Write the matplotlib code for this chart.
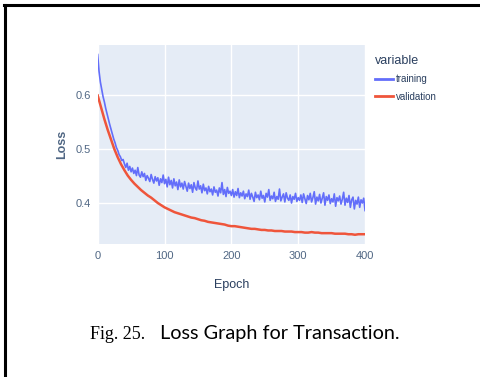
import numpy as np
import matplotlib
matplotlib.use("Agg")
import matplotlib.pyplot as plt
from matplotlib.lines import Line2D

# training loss, logged every 2 epochs
train_epochs = np.arange(0, 401, 2)
train_loss = [
    0.676, 0.645, 0.625, 0.612, 0.598, 0.588, 0.576, 0.566, 0.556, 0.546,
    0.537, 0.528, 0.519, 0.512, 0.503, 0.498, 0.490, 0.486, 0.479, 0.481,
    0.473,
    0.466, 0.474, 0.461, 0.468, 0.458, 0.465, 0.455, 0.461, 0.451, 0.466,
    0.452, 0.448, 0.458, 0.449, 0.455, 0.442, 0.451, 0.446, 0.440, 0.453,
    0.444, 0.437, 0.449, 0.441, 0.447, 0.433, 0.445, 0.438, 0.452, 0.436,
    0.444, 0.430, 0.448, 0.434, 0.442, 0.428, 0.445, 0.432, 0.439, 0.425,
    0.443, 0.430, 0.437, 0.426, 0.440, 0.431, 0.422, 0.437, 0.427, 0.434,
    0.420, 0.438, 0.428, 0.424, 0.441, 0.426, 0.432, 0.419, 0.435, 0.423,
    0.428, 0.417, 0.431, 0.421, 0.426, 0.415, 0.430, 0.420, 0.424, 0.413,
    0.428, 0.419, 0.438, 0.416, 0.425, 0.412, 0.429, 0.418, 0.422, 0.414,
    0.425, 0.411, 0.421, 0.414, 0.427, 0.410, 0.419, 0.413, 0.422, 0.408,
    0.417, 0.412, 0.424, 0.407, 0.418, 0.411, 0.403, 0.420, 0.410, 0.415,
    0.406, 0.422, 0.409, 0.414, 0.402, 0.418, 0.411, 0.425, 0.405, 0.413,
    0.408, 0.420, 0.403, 0.412, 0.407, 0.426, 0.404, 0.411, 0.417, 0.402,
    0.419, 0.409, 0.405, 0.415, 0.400, 0.412, 0.407, 0.418, 0.403, 0.410,
    0.405, 0.415, 0.401, 0.417, 0.408, 0.399, 0.414, 0.406, 0.418, 0.402,
    0.410, 0.421, 0.398, 0.411, 0.404, 0.416, 0.400, 0.409, 0.419, 0.396,
    0.412, 0.405, 0.415, 0.399, 0.408, 0.402, 0.417, 0.394, 0.410, 0.404,
    0.413, 0.398, 0.407, 0.420, 0.396, 0.409, 0.401, 0.414, 0.392, 0.406,
    0.411, 0.389, 0.405, 0.398, 0.411, 0.392, 0.406, 0.400, 0.409, 0.386,
]

# validation loss, logged every 5 epochs
val_epochs = np.arange(0, 401, 5)
val_loss = [
    0.600, 0.578, 0.556, 0.536, 0.518, 0.500, 0.485, 0.472, 0.461, 0.451,
    0.443, 0.436, 0.430, 0.424, 0.419, 0.414, 0.410, 0.405, 0.400, 0.396,
    0.392, 0.389, 0.386, 0.383, 0.381, 0.379, 0.377, 0.375, 0.373, 0.372,
    0.370, 0.368, 0.367, 0.365, 0.364, 0.363, 0.362, 0.361, 0.360, 0.358,
    0.357, 0.357, 0.356, 0.355, 0.354, 0.353, 0.352, 0.352, 0.351, 0.350,
    0.350, 0.349, 0.349, 0.348, 0.348, 0.348, 0.347, 0.347, 0.347, 0.346,
    0.346, 0.346, 0.345, 0.345, 0.346, 0.345, 0.345, 0.344, 0.344, 0.344,
    0.344, 0.343, 0.343, 0.343, 0.343, 0.342, 0.342, 0.341, 0.342, 0.342,
    0.342,
]

x_ticks = [0, 100, 200, 300, 400]
y_ticks = [0.4, 0.5, 0.6]
series_names = ["training", "validation"]
colors = ["#636efa", "#ef553b"]
tick_color = "#506784"
title_color = "#2a3f5f"
font = ["Liberation Sans", "DejaVu Sans"]

fig = plt.figure(figsize=(4.8, 3.77), dpi=100)
ax = fig.add_axes([0.2035, 0.353, 0.557, 0.528])
ax.set_facecolor("#e5ecf6")

ax.plot(train_epochs, train_loss, color=colors[0], lw=1.2)
ax.plot(val_epochs, val_loss, color=colors[1], lw=1.8)

ax.set_xlim(0, 400)
ax.set_ylim(0.324, 0.694)
ax.set_xticks(x_ticks)
ax.set_yticks(y_ticks)
ax.set_yticklabels([f"{v:.1f}" for v in y_ticks])
ax.grid(True, color="white", lw=1.0)
ax.set_axisbelow(True)
for s in ax.spines.values():
    s.set_visible(False)
ax.tick_params(length=0, colors=tick_color, labelsize=8, pad=5)
for lab in ax.get_xticklabels() + ax.get_yticklabels():
    lab.set_family(font)

ax.set_xlabel("Epoch", family=font, fontsize=9, color=title_color, labelpad=13)
ax.set_ylabel("Loss", family=font, fontsize=9, color=tick_color,
              fontweight="bold", labelpad=5)

handles = [Line2D([0], [0], color=c, lw=2) for c in colors]
leg = fig.legend(handles, series_names, title="variable", loc="upper left",
                 bbox_to_anchor=(0.762, 0.877), frameon=False,
                 handlelength=1.9, handletextpad=0.3, labelspacing=0.75,
                 prop={"family": font, "size": 7})
leg.get_title().set_family(font)
leg.get_title().set_fontsize(9)
leg.get_title().set_color(title_color)
leg._legend_box.align = "left"
for t in leg.get_texts():
    t.set_color(title_color)

# page frame: top and left rules
fig.add_artist(Line2D([0.009, 1.0], [0.986, 0.986], color="black", lw=2.2,
                      transform=fig.transFigure))
fig.add_artist(Line2D([0.010, 0.010], [0.0, 0.987], color="black", lw=2.2,
                      transform=fig.transFigure))

# figure caption
fig.text(0.188, 0.100, "Fig. 25.", family="Liberation Serif", fontsize=13,
         ha="left", va="baseline")
fig.text(0.333, 0.100, "Loss Graph for Transaction.", family=["Lato", "DejaVu Sans"],
         fontsize=14.3, ha="left", va="baseline")

fig.savefig("out.png", dpi=100)
